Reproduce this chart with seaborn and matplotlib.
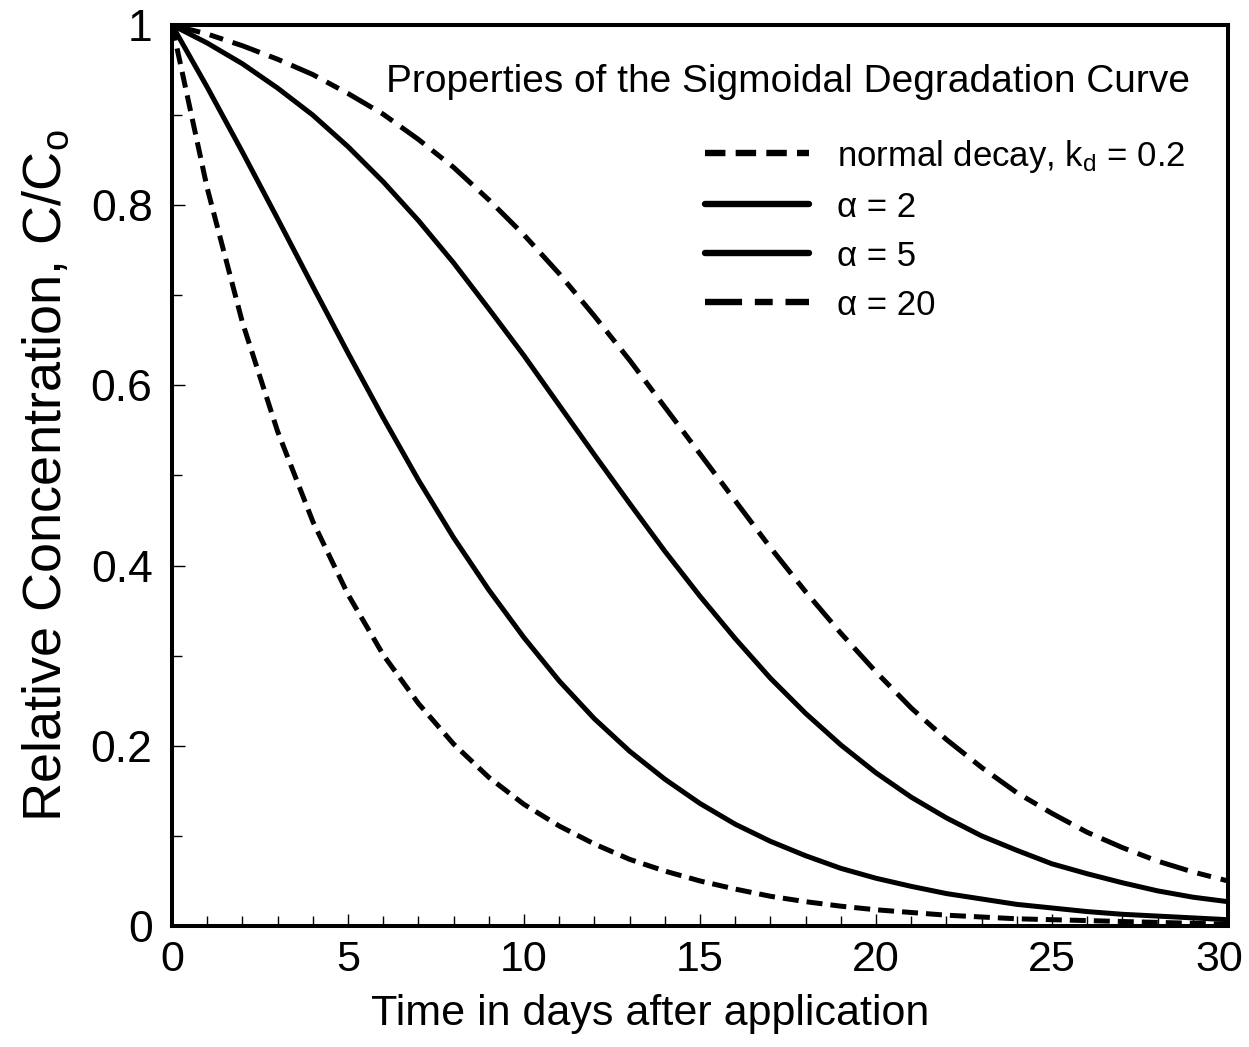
import numpy as np
import pandas as pd
import seaborn as sns
import matplotlib
matplotlib.use('Agg')
import matplotlib.pyplot as plt
import matplotlib.transforms as mtransforms
from matplotlib.ticker import FixedLocator, FixedFormatter, MultipleLocator

# values, one per day
days = list(range(0, 31))
normal_decay = [1.000, 0.819, 0.670, 0.549, 0.449, 0.368, 0.301, 0.247, 0.202, 0.165,
                0.135, 0.111, 0.091, 0.074, 0.061, 0.050, 0.041, 0.033, 0.027, 0.022,
                0.018, 0.015, 0.012, 0.010, 0.008, 0.007, 0.006, 0.005, 0.004, 0.003, 0.002]
alpha_2 = [1.000, 0.931, 0.859, 0.785, 0.710, 0.636, 0.564, 0.495, 0.431, 0.373,
           0.320, 0.272, 0.230, 0.194, 0.163, 0.136, 0.113, 0.094, 0.078, 0.064,
           0.053, 0.044, 0.036, 0.030, 0.024, 0.020, 0.016, 0.013, 0.011, 0.009, 0.007]
alpha_5 = [1.000, 0.980, 0.957, 0.930, 0.900, 0.865, 0.826, 0.783, 0.736, 0.685,
           0.633, 0.578, 0.523, 0.469, 0.416, 0.366, 0.319, 0.275, 0.236, 0.201,
           0.170, 0.143, 0.120, 0.100, 0.084, 0.069, 0.058, 0.048, 0.039, 0.032, 0.027]
alpha_20 = [1.000, 0.990, 0.977, 0.962, 0.945, 0.924, 0.901, 0.873, 0.842, 0.806,
            0.767, 0.724, 0.677, 0.628, 0.576, 0.524, 0.472, 0.420, 0.371, 0.325,
            0.282, 0.242, 0.207, 0.176, 0.148, 0.125, 0.104, 0.087, 0.072, 0.060, 0.050]

labels = ['normal decay, k$_\\mathrm{d}$ = 0.2', '\u03b1 = 2', '\u03b1 = 5', '\u03b1 = 20']
xticks = [0, 5, 10, 15, 20, 25, 30]
xtick_labels = ['0', '5', '10', '15', '20', '25', '30']
yticks = [0, 0.2, 0.4, 0.6, 0.8, 1.0]
ytick_labels = ['0', '0.2', '0.4', '0.6', '0.8', '1']

title = 'Properties of the Sigmoidal Degradation Curve'
xlabel = 'Time in days after application'
ylabel = 'Relative Concentration, C/C$_\\mathrm{o}$'

sns.set_style('white')
plt.rcParams['font.family'] = ['Liberation Sans', 'DejaVu Sans']
plt.rcParams['mathtext.fontset'] = 'custom'
plt.rcParams['mathtext.rm'] = 'Liberation Sans'
plt.rcParams['mathtext.it'] = 'Liberation Sans:italic'
for key in ['text.color', 'axes.labelcolor', 'xtick.color', 'ytick.color']:
    plt.rcParams[key] = 'black'

df = pd.DataFrame({'day': days, 'normal': normal_decay, 'a2': alpha_2,
                   'a5': alpha_5, 'a20': alpha_20})

fig = plt.figure(figsize=(12.49, 10.47), dpi=100)
ax = fig.add_axes([172 / 1249, 1 - 926 / 1047, 1056 / 1249, 901 / 1047])

styles = [
    ('normal', (0, (3.2, 1.6))),
    ('a2', '-'),
    ('a5', '-'),
    ('a20', (0, (5.8, 2.0, 2.8, 2.0))),
]
for (col, ls), lab in zip(styles, labels):
    sns.lineplot(data=df, x='day', y=col, ax=ax, color='black', lw=3.6,
                 linestyle=ls, label=lab)

ax.set_xlim(0, 30)
ax.set_ylim(0, 1)

for sp in ax.spines.values():
    sp.set_linewidth(2.9)
    sp.set_color('black')

ax.xaxis.set_major_locator(FixedLocator(xticks))
ax.xaxis.set_major_formatter(FixedFormatter(xtick_labels))
ax.xaxis.set_minor_locator(MultipleLocator(1))
ax.yaxis.set_major_locator(FixedLocator(yticks))
ax.yaxis.set_major_formatter(FixedFormatter(ytick_labels))
ax.yaxis.set_minor_locator(MultipleLocator(0.1))
ax.tick_params(which='both', direction='in', top=False, right=False,
               bottom=True, left=True, color='black', width=1.0)
ax.tick_params(which='major', length=9)
ax.tick_params(which='minor', length=7)
ax.tick_params(axis='x', which='major', pad=10, labelsize=31)
ax.tick_params(axis='y', which='major', pad=14, labelsize=32)

# nudge the last x label so it stays inside the figure
fig.canvas.draw()
last = ax.get_xticklabels()[-1]
last.set_transform(last.get_transform() +
                   mtransforms.ScaledTranslation(-6 / 72, 0, fig.dpi_scale_trans))

ax.set_xlabel(xlabel, fontsize=31, labelpad=6)
ax.xaxis.set_label_coords(0.453, -0.075)
ax.xaxis.label.set_va('top')
ax.set_ylabel(ylabel, fontsize=39, labelpad=14)

ax.text(0.964, 0.926, title, transform=ax.transAxes, ha='right',
        va='baseline', fontsize=28)

leg = ax.legend(loc='upper left', bbox_to_anchor=(0.505, 0.875), frameon=False,
                prop={'size': 25}, handlelength=3.0, handletextpad=0.8,
                labelspacing=0.46, borderpad=0, borderaxespad=0)
for ln in leg.get_lines():
    ln.set_linewidth(4.6)

fig.savefig('out.png', dpi=100, facecolor='white')
